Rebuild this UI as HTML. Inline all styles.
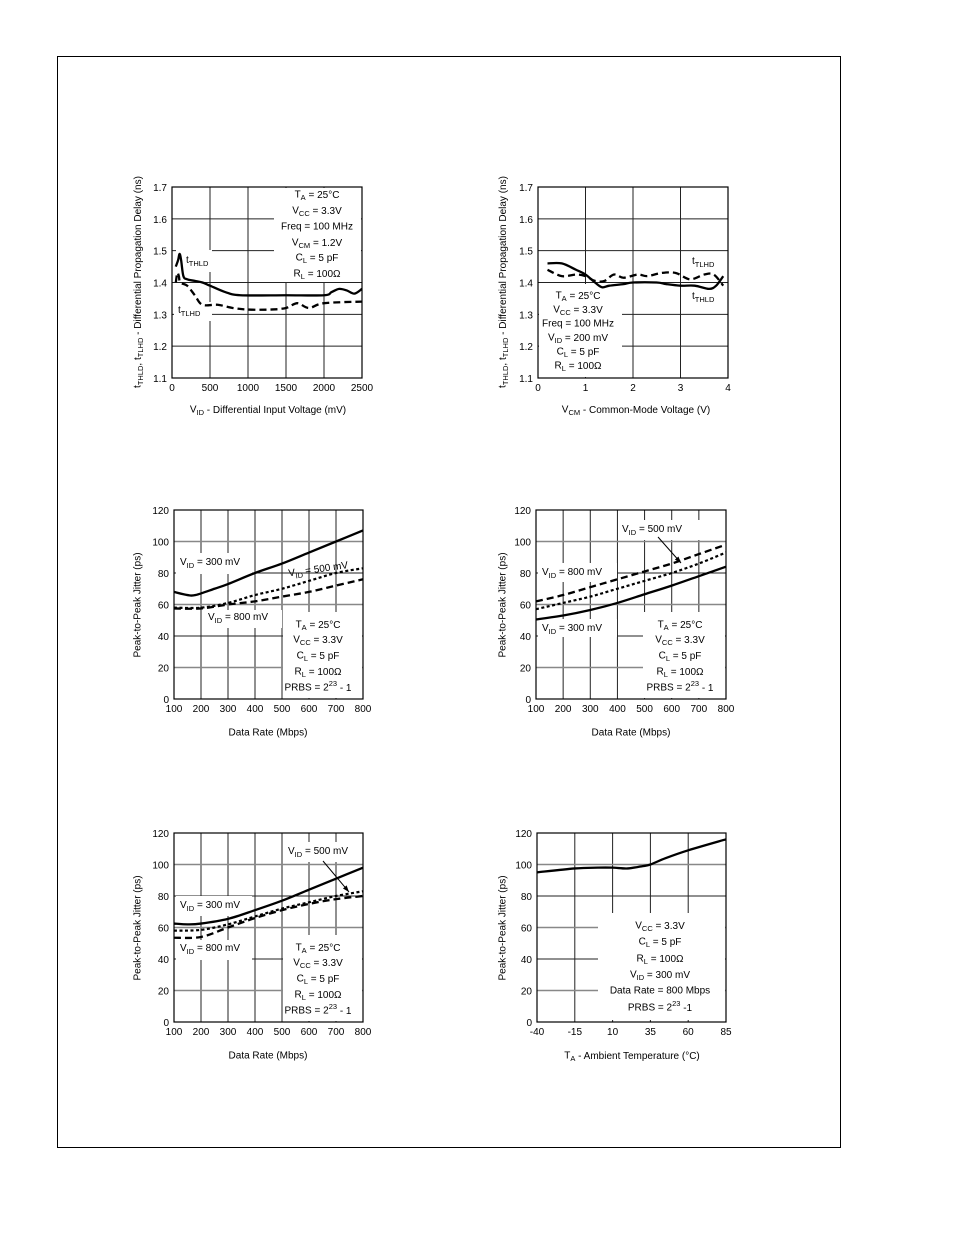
<!DOCTYPE html>
<html><head><meta charset="utf-8">
<style>
html,body{margin:0;padding:0;background:#fff;}
svg{display:block;font-family:"Liberation Sans",sans-serif;}
text{font-size:10px;fill:#000;}
.c{text-anchor:middle;dominant-baseline:middle;}
.s{font-size:7.5px;}
</style></head>
<body>
<svg id="root" width="954" height="1235" viewBox="0 0 954 1235">
<rect x="57.5" y="56.5" width="783" height="1091" fill="none" stroke="#000" stroke-width="1"/>
<g id="marks"></g>
<g id="labels">
<!-- Chart 1 -->
<text class="c" transform="translate(138,282) rotate(-90)">t<tspan class="s" dy="3">THLD</tspan><tspan dy="-3">, t</tspan><tspan class="s" dy="3">TLHD</tspan><tspan dy="-3"> - Differential Propagation Delay (ns)</tspan></text>
<text class="c" x="268" y="410">V<tspan class="s" dy="3">ID</tspan><tspan dy="-3"> - Differential Input Voltage (mV)</tspan></text>
<g>
<text class="c" x="317" y="195">T<tspan class="s" dy="3">A</tspan><tspan dy="-3"> = 25°C</tspan></text>
<text class="c" x="317" y="211">V<tspan class="s" dy="3">CC</tspan><tspan dy="-3"> = 3.3V</tspan></text>
<text class="c" x="317" y="227">Freq = 100 MHz</text>
<text class="c" x="317" y="243">V<tspan class="s" dy="3">CM</tspan><tspan dy="-3"> = 1.2V</tspan></text>
<text class="c" x="317" y="258">C<tspan class="s" dy="3">L</tspan><tspan dy="-3"> = 5 pF</tspan></text>
<text class="c" x="317" y="274">R<tspan class="s" dy="3">L</tspan><tspan dy="-3"> = 100Ω</tspan></text>
</g>
<text x="186" y="263">t<tspan class="s" dy="3">THLD</tspan></text>
<text x="178" y="313">t<tspan class="s" dy="3">TLHD</tspan></text>
<!-- Chart 2 -->
<text class="c" transform="translate(503,282) rotate(-90)">t<tspan class="s" dy="3">THLD</tspan><tspan dy="-3">, t</tspan><tspan class="s" dy="3">TLHD</tspan><tspan dy="-3"> - Differential Propagation Delay (ns)</tspan></text>
<text class="c" x="636" y="410">V<tspan class="s" dy="3">CM</tspan><tspan dy="-3"> - Common-Mode Voltage (V)</tspan></text>
<g>
<text class="c" x="578" y="296">T<tspan class="s" dy="3">A</tspan><tspan dy="-3"> = 25°C</tspan></text>
<text class="c" x="578" y="310">V<tspan class="s" dy="3">CC</tspan><tspan dy="-3"> = 3.3V</tspan></text>
<text class="c" x="578" y="324">Freq = 100 MHz</text>
<text class="c" x="578" y="338">V<tspan class="s" dy="3">ID</tspan><tspan dy="-3"> = 200 mV</tspan></text>
<text class="c" x="578" y="352">C<tspan class="s" dy="3">L</tspan><tspan dy="-3"> = 5 pF</tspan></text>
<text class="c" x="578" y="366">R<tspan class="s" dy="3">L</tspan><tspan dy="-3"> = 100Ω</tspan></text>
</g>
<text x="692" y="264">t<tspan class="s" dy="3">TLHD</tspan></text>
<text x="692" y="299">t<tspan class="s" dy="3">THLD</tspan></text>
<!-- Chart 3 -->
<text class="c" transform="translate(138,605) rotate(-90)">Peak-to-Peak Jitter (ps)</text>
<text class="c" x="268" y="733">Data Rate (Mbps)</text>
<text x="180" y="565">V<tspan class="s" dy="3">ID</tspan><tspan dy="-3"> = 300 mV</tspan></text>
<text x="288" y="572" transform="rotate(-8,320,568)">V<tspan class="s" dy="3">ID</tspan><tspan dy="-3"> = 500 mV</tspan></text>
<text x="208" y="620">V<tspan class="s" dy="3">ID</tspan><tspan dy="-3"> = 800 mV</tspan></text>
<g>
<text class="c" x="318" y="625">T<tspan class="s" dy="3">A</tspan><tspan dy="-3"> = 25°C</tspan></text>
<text class="c" x="318" y="640">V<tspan class="s" dy="3">CC</tspan><tspan dy="-3"> = 3.3V</tspan></text>
<text class="c" x="318" y="656">C<tspan class="s" dy="3">L</tspan><tspan dy="-3"> = 5 pF</tspan></text>
<text class="c" x="318" y="672">R<tspan class="s" dy="3">L</tspan><tspan dy="-3"> = 100Ω</tspan></text>
<text class="c" x="318" y="688">PRBS = 2<tspan class="s" dy="-4">23</tspan><tspan dy="4"> - 1</tspan></text>
</g>
<!-- Chart 4 -->
<text class="c" transform="translate(503,605) rotate(-90)">Peak-to-Peak Jitter (ps)</text>
<text class="c" x="631" y="733">Data Rate (Mbps)</text>
<text x="622" y="532">V<tspan class="s" dy="3">ID</tspan><tspan dy="-3"> = 500 mV</tspan></text>
<text x="542" y="575">V<tspan class="s" dy="3">ID</tspan><tspan dy="-3"> = 800 mV</tspan></text>
<text x="542" y="631">V<tspan class="s" dy="3">ID</tspan><tspan dy="-3"> = 300 mV</tspan></text>
<g>
<text class="c" x="680" y="625">T<tspan class="s" dy="3">A</tspan><tspan dy="-3"> = 25°C</tspan></text>
<text class="c" x="680" y="640">V<tspan class="s" dy="3">CC</tspan><tspan dy="-3"> = 3.3V</tspan></text>
<text class="c" x="680" y="656">C<tspan class="s" dy="3">L</tspan><tspan dy="-3"> = 5 pF</tspan></text>
<text class="c" x="680" y="672">R<tspan class="s" dy="3">L</tspan><tspan dy="-3"> = 100Ω</tspan></text>
<text class="c" x="680" y="688">PRBS = 2<tspan class="s" dy="-4">23</tspan><tspan dy="4"> - 1</tspan></text>
</g>
<!-- Chart 5 -->
<text class="c" transform="translate(138,928) rotate(-90)">Peak-to-Peak Jitter (ps)</text>
<text class="c" x="268" y="1056">Data Rate (Mbps)</text>
<text x="288" y="854">V<tspan class="s" dy="3">ID</tspan><tspan dy="-3"> = 500 mV</tspan></text>
<text x="180" y="908">V<tspan class="s" dy="3">ID</tspan><tspan dy="-3"> = 300 mV</tspan></text>
<text x="180" y="951">V<tspan class="s" dy="3">ID</tspan><tspan dy="-3"> = 800 mV</tspan></text>
<g>
<text class="c" x="318" y="948">T<tspan class="s" dy="3">A</tspan><tspan dy="-3"> = 25°C</tspan></text>
<text class="c" x="318" y="963">V<tspan class="s" dy="3">CC</tspan><tspan dy="-3"> = 3.3V</tspan></text>
<text class="c" x="318" y="979">C<tspan class="s" dy="3">L</tspan><tspan dy="-3"> = 5 pF</tspan></text>
<text class="c" x="318" y="995">R<tspan class="s" dy="3">L</tspan><tspan dy="-3"> = 100Ω</tspan></text>
<text class="c" x="318" y="1011">PRBS = 2<tspan class="s" dy="-4">23</tspan><tspan dy="4"> - 1</tspan></text>
</g>
<!-- Chart 6 -->
<text class="c" transform="translate(503,928) rotate(-90)">Peak-to-Peak Jitter (ps)</text>
<text class="c" x="632" y="1056">T<tspan class="s" dy="3">A</tspan><tspan dy="-3"> - Ambient Temperature (°C)</tspan></text>
<g>
<text class="c" x="660" y="926">V<tspan class="s" dy="3">CC</tspan><tspan dy="-3"> = 3.3V</tspan></text>
<text class="c" x="660" y="942">C<tspan class="s" dy="3">L</tspan><tspan dy="-3"> = 5 pF</tspan></text>
<text class="c" x="660" y="959">R<tspan class="s" dy="3">L</tspan><tspan dy="-3"> = 100Ω</tspan></text>
<text class="c" x="660" y="975">V<tspan class="s" dy="3">ID</tspan><tspan dy="-3"> = 300 mV</tspan></text>
<text class="c" x="660" y="991">Data Rate = 800 Mbps</text>
<text class="c" x="660" y="1008">PRBS = 2<tspan class="s" dy="-4">23</tspan><tspan dy="4"> -1</tspan></text>
</g>
</g>
</svg>
<script>
// ---- Chart data ----
const c1X_thld=[50,80,100,120,150,200,300,400,500,700,900,1500,2000,2100,2200,2300,2400,2500];
const c1Y_thld=[1.45,1.47,1.49,1.47,1.42,1.41,1.405,1.40,1.39,1.37,1.36,1.36,1.36,1.37,1.38,1.375,1.365,1.38];
const c1X_tlhd=[50,70,90,110,200,300,400,600,800,1000,1300,1500,1650,1800,2000,2500];
const c1Y_tlhd=[1.40,1.43,1.42,1.40,1.39,1.36,1.33,1.33,1.32,1.315,1.315,1.32,1.335,1.32,1.335,1.34];
const c1XTicks=[0,500,1000,1500,2000,2500];
const c1YTicks=[1.1,1.2,1.3,1.4,1.5,1.6,1.7];

const c2X_thld=[0.2,0.5,0.8,1.0,1.2,1.35,1.5,1.8,2.0,2.5,2.7,3.0,3.3,3.6,3.75,3.9];
const c2Y_thld=[1.46,1.46,1.44,1.425,1.40,1.385,1.39,1.395,1.40,1.40,1.395,1.39,1.39,1.38,1.39,1.42];
const c2X_tlhd=[0.2,0.5,0.8,1.0,1.2,1.4,1.6,1.8,2.1,2.3,2.6,2.9,3.2,3.5,3.7,3.9];
const c2Y_tlhd=[1.44,1.42,1.425,1.42,1.405,1.405,1.425,1.415,1.425,1.42,1.43,1.43,1.41,1.425,1.425,1.39];
const c2XTicks=[0,1,2,3,4];
const c2YTicks=[1.1,1.2,1.3,1.4,1.5,1.6,1.7];

const rateTicks=[100,200,300,400,500,600,700,800];
const jitTicks=[0,20,40,60,80,100,120];
const c3X=[100,150,180,250,300,400,500,600,700,800];
const c3Y_300=[68,66,66,70,73,80,86,93,100,107];
const c3X2=[100,200,300,400,500,600,700,800];
const c3Y_500=[58,58,61,66,70,75,80,83];
const c3Y_800=[57.5,57.5,60,62,65,68,72,76];

const c4X=[100,200,300,400,500,600,700,800];
const c4Y_800=[62,66,71,76,81,86,92,98];
const c4Y_500=[57,61,65,70,75,80,86,93];
const c4Y_300=[50.5,53,56.5,61,66.5,72,78,84];

const c5X_300=[100,150,200,300,400,500,600,700,800];
const c5Y_300=[62.5,62,62.5,65.5,71,77,84,91,98];
const c5X=[100,200,300,400,500,600,700,800];
const c5Y_500=[58,58.5,62,67,72,76,80,83];
const c5Y_800=[53.5,54,60,66,71,75,78,80];

const c6X=[-40,-15,0,10,20,30,35,45,60,85];
const c6Y=[95,97.5,98,98,97.5,99,100,104,109,116];
const c6XTicks=[-40,-15,10,35,60,85];

const NS='http://www.w3.org/2000/svg';
const marks=document.getElementById('marks');
function el(tag,attrs,parent){const e=document.createElementNS(NS,tag);for(const k in attrs)e.setAttribute(k,attrs[k]);(parent||marks).appendChild(e);return e;}
function fmt(v,dec){return dec?v.toFixed(dec):String(v);}

function makeChart(id,box,xd,yd,xt,yt,dec,hgray,masks){
  const g=el('g',{});
  
  
  const sx=v=>box.l+(v-xd[0])/(xd[1]-xd[0])*(box.r-box.l);
  const sy=v=>box.b-(v-yd[0])/(yd[1]-yd[0])*(box.b-box.t);
  xt.forEach(v=>{const x=sx(v);
    const ln=el('line',{x1:x,x2:x,y1:box.t,y2:box.b,stroke:'#222','stroke-width':1},g);
    
    
    const t=el('text',{x:x,y:box.b+13,'text-anchor':'middle'},g);
    
    
    t.textContent=fmt(v,0);});
  yt.forEach((v,i)=>{const y=sy(v);
    const gray=hgray&&i%2==1;
    const ln=el('line',{x1:box.l,x2:box.r,y1:y,y2:y,stroke:gray?'#888':'#222','stroke-width':gray?1.5:1},g);
    
    
    const t=el('text',{x:box.l-5,y:y+4,'text-anchor':'end'},g);
    
    
    t.textContent=fmt(v,dec);});
  (masks||[]).forEach(m=>{const r=el('rect',{x:m[0],y:m[1],width:m[2]-m[0],height:m[3]-m[1],fill:'#fff'},g);
    
    });
  const fr=el('rect',{x:box.l,y:box.t,width:box.r-box.l,height:box.b-box.t,fill:'none',stroke:'#000','stroke-width':1.2},g);
  
  
  return {g,sx,sy};
}
function curve(ch,xs,ys,style,name){
  const p=xs.map((x,i)=>[ch.sx(x),ch.sy(ys[i])]);
  let d='M'+p[0][0]+','+p[0][1];
  for(let i=0;i<p.length-1;i++){
    const p0=p[Math.max(0,i-1)],p1=p[i],p2=p[i+1],p3=p[Math.min(p.length-1,i+2)];
    const c1=[p1[0]+(p2[0]-p0[0])/6,p1[1]+(p2[1]-p0[1])/6];
    const c2=[p2[0]-(p3[0]-p1[0])/6,p2[1]-(p3[1]-p1[1])/6];
    d+=' C'+c1[0]+','+c1[1]+' '+c2[0]+','+c2[1]+' '+p2[0]+','+p2[1];
  }
  const a={d:d,fill:'none',stroke:'#000','stroke-width':2.3,'stroke-linejoin':'round'};
  if(style==='dash')a['stroke-dasharray']='7,4';
  if(style==='dot'){a['stroke-dasharray']='3,2.5';a['stroke-width']=2.2;}
  const e=el('path',a,ch.g);
  
  
}
function arrow(g,x1,y1,x2,y2,name){
  const l=el('line',{x1,y1,x2,y2,stroke:'#000','stroke-width':1},g);
  
  
  const a=Math.atan2(y2-y1,x2-x1),s=7;
  const pts=[[x2,y2],[x2-s*Math.cos(a-0.35),y2-s*Math.sin(a-0.35)],[x2-s*Math.cos(a+0.35),y2-s*Math.sin(a+0.35)]];
  const h=el('polygon',{points:pts.map(p=>p.join(',')).join(' '),fill:'#000'},g);
  
  
}

let ch;
ch=makeChart('chart-propdelay-vs-vid',{l:172,r:362,t:187,b:378},[0,2500],[1.1,1.7],c1XTicks,c1YTicks,1,false,
  [[274,188,361,282],[176,250,212,272],[174,302,212,321]]);
curve(ch,c1X_thld,c1Y_thld,'solid','c1-tthld-line');
curve(ch,c1X_tlhd,c1Y_tlhd,'dash','c1-ttlhd-line');

ch=makeChart('chart-propdelay-vs-vcm',{l:538,r:728,t:187,b:378},[0,4],[1.1,1.7],c2XTicks,c2YTicks,1,false,
  [[539,284,622,377],[688,252,727,272],[688,288,727,306]]);
curve(ch,c2X_thld,c2Y_thld,'solid','c2-tthld-line');
curve(ch,c2X_tlhd,c2Y_tlhd,'dash','c2-ttlhd-line');

ch=makeChart('chart-jitter-vs-rate-a',{l:174,r:363,t:510,b:699},[100,800],[0,120],rateTicks,jitTicks,0,true,
  [[176,553,252,574],[283,612,362,698],[204,610,282,628]]);
curve(ch,c3X,c3Y_300,'solid','c3-300mv-line');
curve(ch,c3X2,c3Y_500,'dot','c3-500mv-line');
curve(ch,c3X2,c3Y_800,'dash','c3-800mv-line');

ch=makeChart('chart-jitter-vs-rate-b',{l:536,r:726,t:510,b:699},[100,800],[0,120],rateTicks,jitTicks,0,true,
  [[538,563,617,582],[538,619,617,637],[643,612,725,698],[618,520,700,540]]);
curve(ch,c4X,c4Y_800,'dash','c4-800mv-line');
curve(ch,c4X,c4Y_500,'dot','c4-500mv-line');
curve(ch,c4X,c4Y_300,'solid','c4-300mv-line');
arrow(ch.g,658,537,681,563,'c4-500mv-arrow');

ch=makeChart('chart-jitter-vs-rate-c',{l:174,r:363,t:833,b:1022},[100,800],[0,120],rateTicks,jitTicks,0,true,
  [[284,842,361,862],[176,896,252,916],[176,940,252,960],[283,935,362,1021]]);
curve(ch,c5X_300,c5Y_300,'solid','c5-300mv-line');
curve(ch,c5X,c5Y_500,'dot','c5-500mv-line');
curve(ch,c5X,c5Y_800,'dash','c5-800mv-line');
arrow(ch.g,323,861,349,892,'c5-500mv-arrow');

ch=makeChart('chart-jitter-vs-temp',{l:537,r:726,t:833,b:1022},[-40,85],[0,120],c6XTicks,jitTicks,0,true,
  [[598,913,725,1020]]);
curve(ch,c6X,c6Y,'solid','c6-jitter-line');
</script>
</body></html>
